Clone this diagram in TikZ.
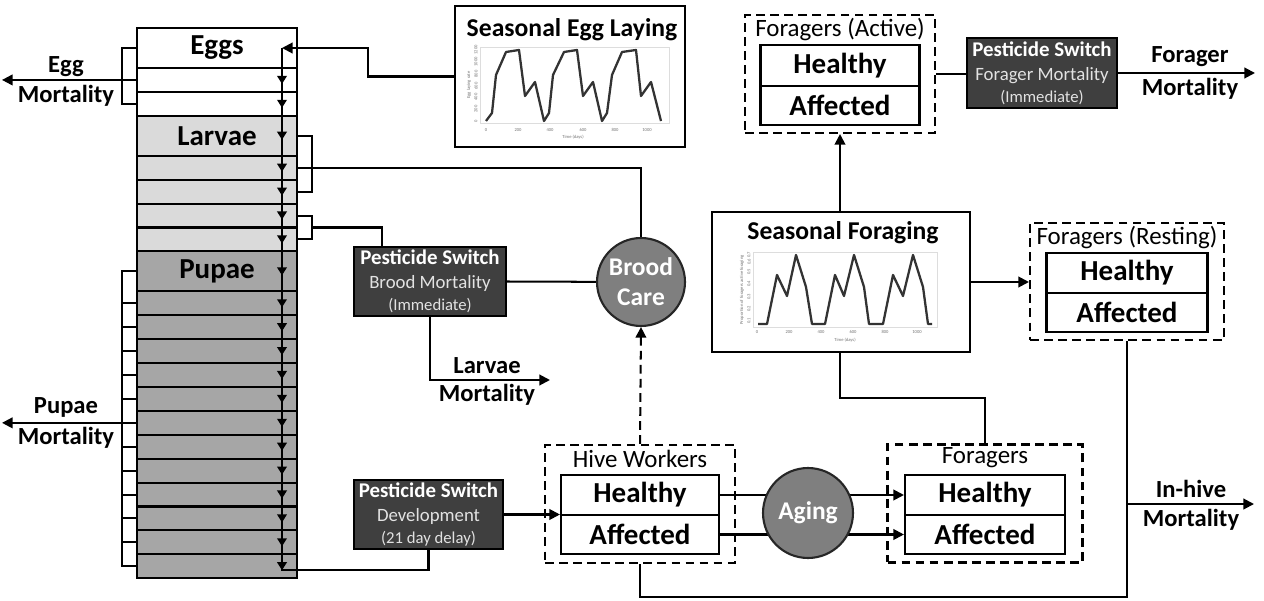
\documentclass[tikz,border=0pt]{standalone}
\usepackage{fontspec}
\setmainfont{Carlito}
\usetikzlibrary{arrows.meta,calc,backgrounds}
\definecolor{darkbox}{HTML}{3F3F3F}
\definecolor{circgrey}{HTML}{7F7F7F}
\definecolor{larvgrey}{HTML}{DADADA}
\definecolor{pupgrey}{HTML}{A6A6A6}
\definecolor{softwhite}{HTML}{E2E2E2}
\definecolor{framegrey}{HTML}{DDDDDD}
\definecolor{curvecol}{HTML}{333333}
\newcommand{\swtxt}[3]{{\fontsize{11.9}{13}\selectfont\bfseries #1}\\[1.5pt]{\fontsize{10.7}{12}\selectfont\color{softwhite}#2}\\[0.5pt]{\fontsize{9.5}{11}\selectfont\color{softwhite}#3}}
\begin{document}
\begin{tikzpicture}[x=0.02cm,y=-0.02cm,line width=1.15pt,
  arr/.style={-{Triangle[length=6pt,width=6pt]}},
  smallarr/.style={-{Triangle[length=4.6pt,width=5.4pt]}},
  rowbox/.style={draw,line width=1.15pt,minimum width=3.2cm,inner sep=0pt,outer sep=0pt,anchor=north west,font=\fontsize{16.5}{18}\selectfont\bfseries},
  grp/.style={draw,dash pattern=on 5pt off 3pt,line width=1.2pt,inner sep=0pt},
  state/.style={draw,line width=1.2pt,inner sep=0pt,font=\fontsize{16.5}{18}\selectfont\bfseries},
  grptitle/.style={font=\fontsize{14.2}{16}\selectfont,inner sep=0pt},
  charttitle/.style={font=\fontsize{14.6}{16}\selectfont\bfseries,inner sep=0pt},
  chartbox/.style={draw,line width=1.3pt,inner sep=0pt},
  switch/.style={draw=black,fill=darkbox,line width=1.2pt,text=white,inner sep=0pt,align=center},
  circ/.style={circle,draw=black!85,fill=circgrey,line width=1.2pt,text=white,inner sep=0pt,align=center,font=\fontsize{14.5}{17}\selectfont\bfseries},
  lbl/.style={font=\fontsize{14}{16}\selectfont\bfseries,inner sep=0pt},
  tiny/.style={font=\fontsize{2.6}{3}\selectfont,text=black!55,inner sep=0pt},
  curve/.style={draw=curvecol,line width=1.3pt,line join=round},
  conn/.style={line width=1.15pt},
]
\useasboundingbox (0,0) rectangle (1264,601);

% ---------------- brood column ----------------
\foreach \n/\t/\h/\f/\l in {1/28/40/white/Eggs,2/68/23.9/white/{},3/91.9/23.9/white/{},
  4/115.8/40/larvgrey/Larvae,5/155.8/23.9/larvgrey/{},6/179.7/23.9/larvgrey/{},7/203.6/23.9/larvgrey/{},8/227.5/23.9/larvgrey/{},
  9/251.4/40/pupgrey/Pupae}
  \node[rowbox,fill=\f,minimum height={\h*0.02cm}] (r\n) at (137,\t) {\l};
\foreach \k in {0,...,11}{
  \pgfmathtruncatemacro\n{10+\k}
  \node[rowbox,fill=pupgrey,minimum height=0.478cm] (r\n) at (137,{291.4+23.9*\k}) {};
}

% flow line inside column
\coordinate (flowtop) at (282,48);
\coordinate (flowbot) at (282,570);
\foreach \n in {2,...,21}{
  \path (r\n.center -| flowtop) coordinate (m\n);
  \draw[smallarr] ($(m\n)+(0,-7)$) -- ($(m\n)+(0,4)$);
}

% egg mortality bracket
\coordinate (emx) at (122,80);
\coordinate (mortend) at (2,80);
\draw (r1.west) -- (r1.west -| emx) -- (r3.west -| emx) -- (r3.west);
\draw[arr] (r2.west) -- (r2.west -| mortend);
\node[lbl] (eggL1) at (66,67) {Egg};
\node[lbl] (eggL2) at (66,96) {Mortality};

% pupae mortality bracket
\draw (r9.west) -- (r9.west -| emx) -- (r21.west -| emx) -- (r21.west);
\foreach \n in {10,...,20} \draw (r\n.west) -- (r\n.west -| emx);
\draw[arr] (r15.west) -- (r15.west -| mortend);
\node[lbl] (pupL1) at (66,407) {Pupae};
\node[lbl] (pupL2) at (66,438) {Mortality};

% ---------------- nodes ----------------
\node[chartbox,minimum width=4.6cm,minimum height=2.82cm] (egglay) at (570,76.5) {};
\node[charttitle] (egglayT) at (572,30) {Seasonal Egg Laying};

\node[switch,minimum width=3.04cm,minimum height=1.38cm] (pbrood) at (430,281.5) {\swtxt{Pesticide Switch}{Brood Mortality}{(Immediate)}};
\node[circ,minimum size=1.76cm] (brood) at (641,282) {Brood\\Care};

\node[switch,minimum width=2.98cm,minimum height=1.38cm] (devbox) at (428.5,514.5) {\swtxt{Pesticide Switch}{Development}{(21 day delay)}};

\node[grp,minimum width=3.8cm,minimum height=2.36cm] (hive) at (640,504) {};
\node[grptitle] (hiveT) at (640,459) {Hive Workers};
\node[state,minimum width=3.16cm,minimum height=0.8cm] (hiveH) at (640,495) {Healthy};
\node[state,minimum width=3.16cm,minimum height=0.78cm] (hiveA) at (640,534.5) {Affected};

\node[circ,minimum size=1.8cm] (aging) at (808,513) {Aging};

\node[grp,minimum width=3.9cm,minimum height=2.36cm] (fg) at (985,503.5) {};
\node[grptitle] (fgT) at (985,458) {Foragers};
\node[state,minimum width=3.2cm,minimum height=0.8cm] (fgH) at (985,495) {Healthy};
\node[state,minimum width=3.2cm,minimum height=0.78cm] (fgA) at (985,534.5) {Affected};

\node[chartbox,minimum width=5.16cm,minimum height=2.8cm] (sf) at (841,282) {};
\node[charttitle] (sfT) at (843,233) {Seasonal Foraging};

\node[grp,minimum width=3.8cm,minimum height=2.36cm] (fa) at (840,74) {};
\node[grptitle] (faT) at (840,30) {Foragers (Active)};
\node[state,minimum width=3.18cm,minimum height=0.82cm] (faH) at (840,65.5) {Healthy};
\node[state,minimum width=3.18cm,minimum height=0.78cm] (faA) at (840,105.5) {Affected};

\node[switch,minimum width=3.0cm,minimum height=1.4cm] (pf) at (1042,73) {\swtxt{Pesticide Switch}{Forager Mortality}{(Immediate)}};

\node[grp,minimum width=3.88cm,minimum height=2.34cm] (fr) at (1127,281.5) {};
\node[grptitle] (frT) at (1127,238) {Foragers (Resting)};
\node[state,minimum width=3.22cm,minimum height=0.8cm] (frH) at (1127,273) {Healthy};
\node[state,minimum width=3.22cm,minimum height=0.78cm] (frA) at (1127,312.5) {Affected};

% ---------------- charts ----------------
\draw[framegrey,line width=0.4pt] (480,47) rectangle (669,123);
\draw[curve] (486,121) -- (492,113) -- (496,75) -- (506,52) -- (519,50) -- (525,96) -- (535,82) -- (544,121)
  -- (549,113) -- (553,75) -- (564,52) -- (577,50) -- (583,96) -- (593,82) -- (602,121)
  -- (607,113) -- (612,75) -- (622,52) -- (636,50) -- (641,96) -- (651,82) -- (661,121);
\foreach \v/\x in {0/486,200/518,400/550,600/583,800/615,1000/647} \node[tiny] at (\x,130) {\v};
\foreach \v/\y in {0/121,200/109,400/97,600/86,800/74,1000/62,1200/50} \node[tiny,rotate=90] at (476,\y) {\v};
\node[tiny] at (573,137) {Time (days)};
\node[tiny,rotate=90] at (469,85) {Egg laying rate};

\draw[framegrey,line width=0.4pt] (753,252) rectangle (937,327);
\draw[curve] (758,324) -- (767,324) -- (777,275) -- (787,296) -- (796,255) -- (806,287) -- (812,324)
  -- (825,324) -- (835,275) -- (844,296) -- (854,255) -- (864,287) -- (869,324)
  -- (883,324) -- (893,275) -- (903,296) -- (913,255) -- (923,287) -- (928,324) -- (932,324);
\foreach \v/\x in {0/757,200/789,400/821,600/853,800/885,1000/917} \node[tiny] at (\x,332) {\v};
\foreach \v/\y in {0.1/321,0.2/309,0.3/297,0.4/284,0.5/272,0.6/262,0.7/255} \node[tiny,rotate=90] at (749,\y) {\v};
\node[tiny] at (845,340) {Time (days)};
\node[tiny,rotate=90] at (742,290) {Proportion of foragers active foraging};

% ---------------- connectors ----------------
\draw[arr] (egglay.west) -| (368,48) -- (flowtop);
\draw (flowtop) -- (flowbot) -| (devbox.south);

\coordinate (lbx) at (312,150);
\draw (r4.east) -- (r4.east -| lbx) -- (r6.east -| lbx) -- (r6.east);
\draw (r5.east) -| (brood.north);
\draw (r7.east) -- (r7.east -| lbx) -- (r8.east -| lbx) -- (r8.east);
\coordinate (b2m) at ($(r7.east -| lbx)!0.5!(r8.east -| lbx)$);
\draw (b2m) -| ([xshift=0.58cm]pbrood.north west);
\draw (pbrood.east) -- (brood);
\coordinate (larvmort) at (550,380);
\draw[arr] (pbrood.south) |- (larvmort);
\node[lbl] (larvL1) at (487,366) {Larvae};
\node[lbl] (larvL2) at (487,395) {Mortality};

\draw[arr,dash pattern=on 5pt off 3pt] (hive.north) -- (brood.south);
\draw[arr] (devbox.east) -- (devbox.east -| hiveH.west);

\begin{scope}[on background layer]
  \draw[conn] (hiveH.east) -- (hiveH.east -| aging.center);
  \draw[conn] (hiveA.east) -- (hiveA.east -| aging.center);
  \draw[conn,arr] (aging.center |- fgH.west) -- (fgH.west);
  \draw[conn,arr] (aging.center |- fgA.west) -- (fgA.west);
\end{scope}

\draw[arr] (sf.north -| fa.south) -- (fa.south);
\draw[arr] (sf.east) -- (sf.east -| fr.west);
\coordinate (sfturn) at (985,398);
\draw (sf.south -| fa.south) |- (sfturn) -- (fg.north);

\draw (fa.east) -- (fa.east -| pf.west);
\coordinate (fmort) at (1255,73);
\draw[arr] (pf.east) -- (fmort);
\node[lbl] (fmL1) at (1190,57) {Forager};
\node[lbl] (fmL2) at (1190,89) {Mortality};

\coordinate (ihc) at (1127,597);
\draw (hive.south) |- (ihc) -- (fr.south);
\coordinate (ihb) at (1127,504);
\coordinate (ihend) at (1254,504);
\draw[arr] (ihb) -- (ihend);
\node[lbl] (ihL1) at (1191,489) {In-hive};
\node[lbl] (ihL2) at (1191,520) {Mortality};
\end{tikzpicture}
\end{document}
